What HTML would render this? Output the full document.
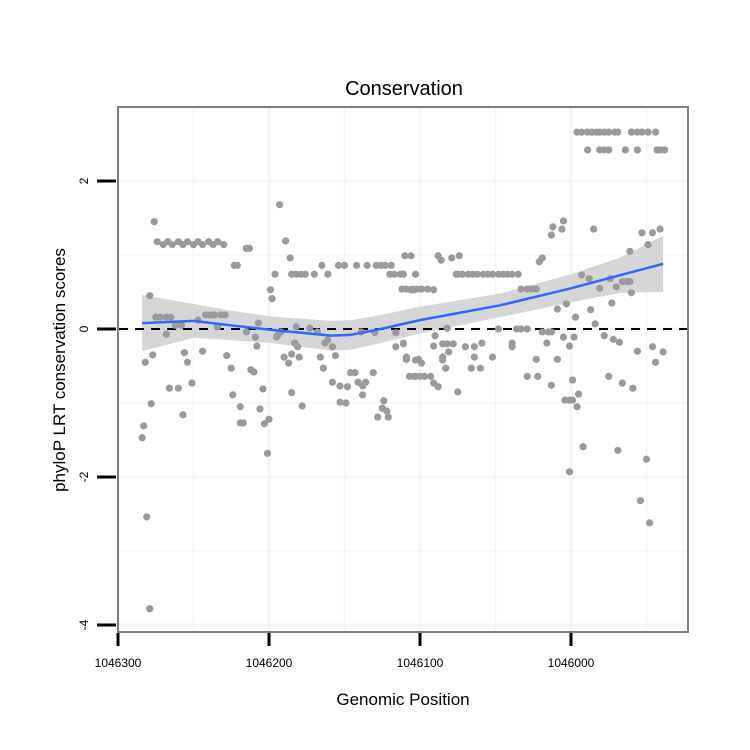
<!DOCTYPE html>
<html><head><meta charset="utf-8"><style>
body{margin:0;background:#fff}
svg{display:block;font-family:"Liberation Sans",sans-serif}
</style></head><body>
<svg id="chart" width="750" height="750">
<text x="404" y="95" font-size="20" text-anchor="middle">Conservation</text>
<g id="grid"></g>
<g id="band"></g>
<g id="pts"></g>
<g id="fit"></g>
<rect x="118" y="107" width="570" height="525" fill="none" stroke="#7f7f7f" stroke-width="2"/>
<g id="axes"></g>
<text x="403" y="705" font-size="17" text-anchor="middle">Genomic Position</text>
<text transform="translate(65,370) rotate(-90)" font-size="17" text-anchor="middle">phyloP LRT conservation scores</text>
</svg>
<script>
const xTicks=[1046300,1046200,1046100,1046000];
const xMinor=[1046250,1046150,1046050,1045950];
const yTicks=[2,0,-2,-4];
const yMinor=[1,-1,-3];
const positions=[1046284,1046283,1046281,1046279,1046278,1046279,1046276,1046282,1046277,
1046274,1046270,1046267,1046264,1046260,1046257,1046254,1046250,1046247,1046244,1046240,1046237,1046234,1046230,
1046266,1046260,1046256,1046254,1046257,1046251,1046244,1046268,1046275,1046272,1046268,1046265,1046262,1046258,1046247,
1046242,1046239,1046236,1046232,1046229,1046234,1046223,1046221,1046215,1046213,1046193,1046189,1046186,1046196,1046199,1046198,
1046228,1046225,1046224,1046219,1046219,1046217,1046212,1046210,1046209,1046208,1046207,1046215,1046204,1046206,1046200,1046203,1046201,1046194,1046195,1046192,1046190,1046187,1046185,1046178,1046182,
1046185,1046182,1046179,1046176,1046170,1046165,1046161,1046154,1046150,1046142,1046135,1046129,1046126,1046123,1046119,1046120,1046117,1046113,1046111,1046110,1046106,1046104,1046106,1046103,
1046183,1046181,1046185,1046180,1046173,1046163,1046161,1046158,1046156,1046168,1046166,1046164,1046158,1046153,1046153,1046149,1046148,1046143,1046141,1046138,1046138,1046131,1046136,1046128,1046125,1046121,1046122,1046124,1046146,1046139,1046130,1046116,1046111,1046116,1046109,1046103,1046085,1046104,
1046088,1046086,1046079,1046074,1046112,1046109,1046105,1046102,1046099,1046095,1046091,1046076,
1046075,1046072,1046068,1046065,1046062,1046058,1046055,1046052,1046048,1046045,1046042,1046039,1046035,1046033,1046029,1046026,1046023,1046021,1046019,1046013,1046012,1046006,1046005,1045985,1045993,1045988,1045981,1045974,1045970,1045966,1045963,1045961,1045960,1045961,1045953,1045949,1045946,1045941,1046009,1046003,1045997,1045987,1045984,1045973,
1045996,1045993,1045989,1045986,1045983,1045981,1045978,1045975,1045971,1045969,1045960,1045956,1045953,1045949,1045944,
1045989,1045981,1045978,1045975,1045964,1045956,1045943,1045941,1045938,
1046082,1046048,1046036,1046033,1046029,1046019,1046015,1046013,1046111,1046091,1046090,1046085,1046082,1046078,1046081,1046085,1046109,1046101,1046099,1046083,1046107,1046103,1046100,1046097,1046093,1046091,1046088,1046075,1046070,1046064,1046059,1046064,1046066,1046060,1046052,1046039,1046039,1046023,1046029,1046022,1046016,1046013,1046009,1046005,1046001,1045998,1045999,1045995,1046004,1046001,1045999,1045996,1045978,1045972,1045968,1045956,1045946,1045944,1045939,1045975,1045966,1045959,1045992,1046001,1045969,1045950,1045954,1045948];
const scores=[-1.47,-1.31,-2.54,-3.78,-1.01,0.45,1.45,-0.45,-0.35,
1.18,1.14,1.18,1.14,1.18,1.14,1.18,1.14,1.18,1.14,1.18,1.14,1.18,1.14,
-0.8,-0.8,-0.32,-0.45,-1.16,-0.73,-0.3,-0.07,0.16,0.16,0.16,0.16,0.05,0.05,0.12,
0.19,0.19,0.19,0.19,0.19,0.03,0.86,0.86,1.09,1.09,1.68,1.19,0.96,0.74,0.53,0.41,
-0.36,-0.53,-0.89,-1.05,-1.27,-1.27,-0.55,-0.58,-0.11,-0.23,0.08,-0.04,-0.81,-1.08,-1.22,-1.28,-1.68,-0.08,-0.11,-0.04,-0.38,-0.46,-0.86,-1.04,0.03,
0.74,0.74,0.74,0.74,0.74,0.86,0.74,0.86,0.86,0.86,0.86,0.86,0.86,0.86,0.86,0.74,0.74,0.74,0.74,0.99,0.53,0.53,0.99,0.74,
-0.19,-0.24,-0.34,-0.38,0.01,-0.19,-0.15,-0.24,-0.36,-0.04,-0.38,-0.53,-0.72,-0.77,-0.99,-1.0,-0.78,-0.59,-0.72,-0.77,-0.89,-0.59,-0.72,-1.19,-1.07,-1.19,-1.11,-0.97,-0.59,-0.04,-0.05,-0.05,-0.19,-0.24,-0.38,-0.42,-0.42,-0.64,
0.99,0.93,0.96,0.99,0.54,0.54,0.54,0.54,0.54,0.54,0.53,0.74,
0.74,0.74,0.74,0.74,0.74,0.74,0.74,0.74,0.74,0.74,0.74,0.74,0.74,0.54,0.54,0.54,0.54,0.91,0.96,1.27,1.38,1.35,1.46,1.35,0.73,0.68,0.55,0.68,0.57,0.64,0.64,0.64,0.49,1.05,1.3,1.14,1.3,1.35,0.27,0.34,0.16,0.26,0.07,0.35,
2.66,2.66,2.66,2.66,2.66,2.66,2.66,2.66,2.66,2.66,2.66,2.66,2.66,2.66,2.66,
2.42,2.42,2.42,2.42,2.42,2.42,2.42,2.42,2.42,
0.01,0.0,0.0,0.0,0.0,-0.04,-0.04,-0.04,-0.2,-0.23,-0.09,-0.2,-0.2,-0.2,-0.31,-0.38,-0.41,-0.41,-0.46,-0.53,-0.64,-0.64,-0.64,-0.64,-0.64,-0.73,-0.78,-0.85,-0.24,-0.24,-0.19,-0.38,-0.53,-0.53,-0.38,-0.19,-0.24,-0.41,-0.64,-0.64,-0.19,-0.76,-0.41,-0.11,-0.23,-0.11,-0.69,-0.88,-0.96,-0.96,-0.96,-1.05,-0.09,-0.14,-0.18,-0.3,-0.24,-0.45,-0.31,-0.64,-0.73,-0.8,-1.59,-1.93,-1.64,-1.76,-2.32,-2.62];
const fitPos=[1046284,1046250,1046226,1046199,1046159,1046146,1046126,1046100,1046047,1046000,1045967,1045939];
const fitVal=[0.08,0.11,0.05,-0.01,-0.09,-0.08,0,0.12,0.32,0.55,0.73,0.88];
const fitSE=[0.38,0.23,0.2,0.18,0.2,0.2,0.19,0.18,0.16,0.19,0.24,0.38];

const X=p=>118+(1046300-p)*1.51;
const Y=v=>329-v*74;
const NS='http://www.w3.org/2000/svg';
function mk(tag,attrs,parent){const e=document.createElementNS(NS,tag);for(const k in attrs)e.setAttribute(k,attrs[k]);parent.appendChild(e);return e;}
const grid=document.getElementById('grid');
xMinor.forEach(p=>{const l=mk('line',{x1:X(p),x2:X(p),y1:108,y2:631,stroke:'#f5f5f5','stroke-width':1.5},grid);

});
xTicks.forEach(p=>{const l=mk('line',{x1:X(p),x2:X(p),y1:108,y2:631,stroke:'#f5f5f5','stroke-width':3},grid);

});
yMinor.forEach(v=>{const l=mk('line',{x1:119,x2:687,y1:Y(v),y2:Y(v),stroke:'#f5f5f5','stroke-width':1.5},grid);

});
yTicks.forEach(v=>{const l=mk('line',{x1:119,x2:687,y1:Y(v),y2:Y(v),stroke:'#f5f5f5','stroke-width':3},grid);

});
// band
let d='';
fitPos.forEach((p,i)=>{d+=(i?'L':'M')+X(p)+','+Y(fitVal[i]+fitSE[i]);});
for(let i=fitPos.length-1;i>=0;i--)d+='L'+X(fitPos[i])+','+Y(fitVal[i]-fitSE[i]);
const band=mk('path',{d:d+'Z',fill:'#d6d6d6'},document.getElementById('band'));


// zero line
const z=mk('line',{x1:119,x2:687,y1:Y(0),y2:Y(0),stroke:'#000','stroke-width':2,'stroke-dasharray':'9,7'},document.getElementById('band'));


const pts=document.getElementById('pts');
positions.forEach((p,i)=>{const c=mk('circle',{cx:X(p),cy:Y(scores[i]),r:3.6,fill:'#9a9a9a'},pts);

});
let fd='';fitPos.forEach((p,i)=>{fd+=(i?'L':'M')+X(p)+','+Y(fitVal[i]);});
const fl=mk('path',{d:fd,fill:'none',stroke:'#3366ff','stroke-width':2.5},document.getElementById('fit'));


const ax=document.getElementById('axes');
xTicks.forEach(p=>{const t=mk('line',{x1:X(p),x2:X(p),y1:633,y2:646,stroke:'#000','stroke-width':3},ax);


const l=mk('text',{x:X(p),y:667,'font-size':12,'text-anchor':'middle'},ax);l.textContent=p;

});
yTicks.forEach(v=>{const t=mk('line',{x1:97,x2:116,y1:Y(v),y2:Y(v),stroke:'#000','stroke-width':3},ax);


const l=mk('text',{transform:'translate(88,'+Y(v)+') rotate(-90)','font-size':12,'text-anchor':'middle'},ax);l.textContent=v;

});
</script>
</body></html>
